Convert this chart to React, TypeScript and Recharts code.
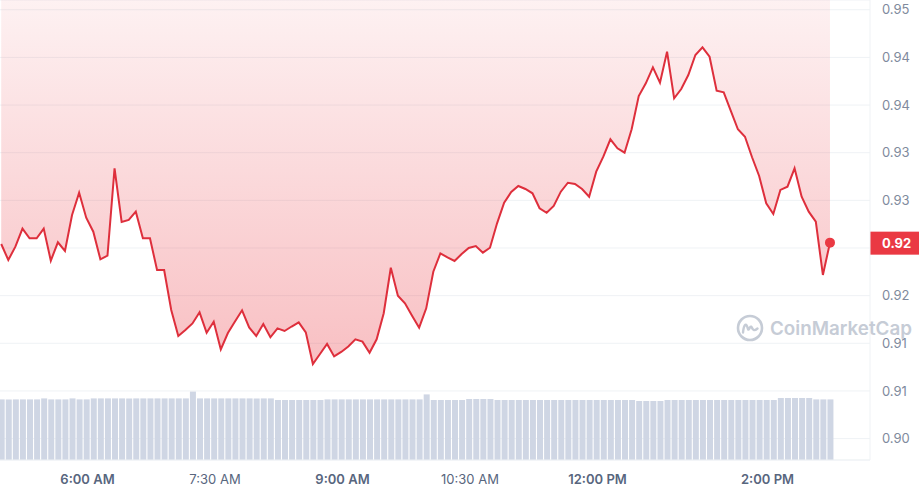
import {
  Area,
  Bar,
  CartesianGrid,
  ComposedChart,
  ReferenceDot,
  ReferenceLine,
  XAxis,
  YAxis,
} from "recharts";

// ---------------------------------------------------------------------------
// Data — 5-minute samples, first one at ~4:59 AM
// ---------------------------------------------------------------------------

const START_MINUTE = 299.1;
const STEP_MINUTES = 5;

const PRICES = [
  0.92542, 0.92374, 0.92514, 0.92703, 0.92602, 0.92602, 0.92703, 0.92367, 0.9256, 0.92469,
  0.92846, 0.9308, 0.92818, 0.92671, 0.92381, 0.92419, 0.93336, 0.92773, 0.92794, 0.92881,
  0.92602, 0.92602, 0.92269, 0.92269, 0.91849, 0.91577, 0.9164, 0.91708, 0.91825, 0.91611,
  0.91727, 0.91435, 0.91608, 0.91729, 0.91846, 0.91666, 0.91577, 0.91702, 0.91563, 0.91657,
  0.91629, 0.91676, 0.9172, 0.91615, 0.91283, 0.91388, 0.91493, 0.91362, 0.91409, 0.91466,
  0.91542, 0.91517, 0.91401, 0.91542, 0.91815, 0.92293, 0.91999, 0.9192, 0.9179, 0.91664,
  0.91867, 0.92251, 0.92444, 0.92402, 0.92364, 0.92437, 0.925, 0.92521, 0.92451, 0.92503,
  0.92759, 0.92975, 0.93088, 0.93151, 0.93119, 0.93074, 0.92917, 0.9287, 0.92941, 0.93091,
  0.93185, 0.93172, 0.93119, 0.93038, 0.93301, 0.93458, 0.93641, 0.93546, 0.935, 0.93746,
  0.94095, 0.94228, 0.94396, 0.94235, 0.9456, 0.94071, 0.94168, 0.94315, 0.94525, 0.94606,
  0.94507, 0.94151, 0.94134, 0.93938, 0.93746, 0.93668, 0.93452, 0.93256, 0.92969, 0.92857,
  0.93109, 0.93143, 0.93336, 0.93038, 0.92881, 0.92776, 0.92217, 0.92556,
];

// volume in millions (relative heights)
const VOLUMES_M = [
  3.03, 3.03, 3.03, 3.03, 3.03, 3.03, 3.08, 3.03, 3.03, 3.03,
  3.08, 3.03, 3.03, 3.08, 3.08, 3.08, 3.08, 3.08, 3.08, 3.08,
  3.08, 3.08, 3.08, 3.08, 3.08, 3.08, 3.08, 3.42, 3.08, 3.08,
  3.08, 3.08, 3.08, 3.08, 3.08, 3.08, 3.08, 3.08, 3.08, 3.0,
  3.0, 3.0, 3.0, 3.0, 3.0, 3.0, 3.03, 3.03, 3.03, 3.03,
  3.03, 3.03, 3.03, 3.03, 3.03, 3.03, 3.03, 3.03, 3.03, 3.03,
  3.28, 3.0, 3.0, 3.0, 3.0, 3.0, 3.05, 3.05, 3.05, 3.05,
  3.0, 3.0, 3.0, 3.0, 3.0, 3.0, 3.0, 3.0, 3.0, 3.0,
  3.0, 3.0, 3.0, 3.0, 3.0, 3.0, 3.0, 3.0, 3.0, 3.0,
  2.95, 2.95, 2.95, 2.95, 3.0, 3.0, 3.0, 3.0, 3.0, 3.0,
  3.0, 3.0, 3.0, 3.0, 3.0, 3.0, 3.0, 3.0, 3.0, 3.0,
  3.1, 3.1, 3.1, 3.1, 3.1, 3.03, 3.03, 3.03,
];

const TIME_TICKS = [360, 450, 540, 630, 720, 840];
const BOLD_TIME_TICKS = [360, 540, 720, 840];
const PRICE_TICKS = [0.905, 0.91, 0.915, 0.92, 0.925, 0.93, 0.935, 0.94, 0.945, 0.95];

const RED = "#ea3943";
const LINE_RED = "#de2f3c";

const rows = PRICES.map((price, i) => ({
  t: START_MINUTE + i * STEP_MINUTES,
  price,
  volume: VOLUMES_M[i],
}));

const last = rows[rows.length - 1];

// CMC shows prices truncated, not rounded (0.945 -> "0.94")
function fmtPrice(v: number) {
  return (Math.floor(v * 100 + 1e-6) / 100).toFixed(2);
}

function fmtTime(min: number) {
  const h24 = Math.floor(min / 60);
  const m = Math.round(min % 60);
  const ampm = h24 >= 12 ? "PM" : "AM";
  const h = h24 % 12 === 0 ? 12 : h24 % 12;
  return `${h}:${String(m).padStart(2, "0")} ${ampm}`;
}

function TimeTick(props: any) {
  const { x, y, payload } = props;
  const bold = BOLD_TIME_TICKS.includes(payload.value);
  return (
    <text
      x={x}
      y={y}
      dy="0.71em"
      textAnchor="middle"
      fill="#58667e"
      fontSize={13}
      fontWeight={bold ? 600 : 400}
      fontFamily="Inter, sans-serif"
    >
      {fmtTime(payload.value)}
    </text>
  );
}

// price ticks; the one sitting under the current-price tag is covered by it
function PriceTick(props: any) {
  const { x, y, payload } = props;
  if (Math.abs(payload.value - last.price) < 0.001) return null;
  return (
    <text
      x={x}
      y={y}
      dy="0.355em"
      textAnchor="start"
      fill="#808a9d"
      fontSize={13}
      fontFamily="Inter, sans-serif"
    >
      {fmtPrice(payload.value)}
    </text>
  );
}

function PriceTag(props: any) {
  const vb = props.viewBox;
  const x = vb.x + vb.width;
  const y = vb.y;
  return (
    <g>
      <rect x={x} y={y - 11} width={49} height={23} fill={RED} />
      <text
        x={x + 12}
        y={y + 0.5}
        dy="0.355em"
        fill="#ffffff"
        fontSize={13}
        fontWeight={700}
        fontFamily="Inter, sans-serif"
      >
        {fmtPrice(last.price)}
      </text>
    </g>
  );
}

function Watermark() {
  return (
    <div
      style={{
        position: "absolute",
        left: 736,
        top: 314,
        display: "flex",
        alignItems: "center",
        gap: 6,
        color: "#c6ccd6",
        fontFamily: "Inter, sans-serif",
        fontWeight: 600,
        fontSize: 18.8,
        pointerEvents: "none",
      }}
    >
      <svg width={28} height={28} viewBox="0 0 28 28">
        <circle cx={14} cy={14} r={12} fill="none" stroke="#c6ccd6" strokeWidth={2.6} />
        <path
          d="M7 18.5 C8 9, 10.5 9, 11.8 14.5 C12.8 18.5, 14 10, 15.8 13.5 C17 16.5, 18.5 17, 21.5 14.5"
          fill="none"
          stroke="#c6ccd6"
          strokeWidth={2.4}
          strokeLinecap="round"
        />
      </svg>
      <span>CoinMarketCap</span>
    </div>
  );
}

export default function App() {
  return (
    <div style={{ position: "absolute", left: 0, top: 0, width: 919, height: 490, background: "#fff" }}>
      <ComposedChart
        width={919}
        height={490}
        data={rows}
        margin={{ top: 0, right: 0, bottom: 0, left: 0 }}
      >
        <defs>
          <linearGradient id="redFill" x1="0" y1="0" x2="0" y2="1">
            <stop offset="0%" stopColor={RED} stopOpacity={0.07} />
            <stop offset="100%" stopColor={RED} stopOpacity={0.32} />
          </linearGradient>
        </defs>
        <CartesianGrid yAxisId="price" vertical={false} stroke="#eff2f5" />
        <XAxis
          dataKey="t"
          type="number"
          domain={[298.24, 912.35]}
          allowDataOverflow
          ticks={TIME_TICKS}
          tick={<TimeTick />}
          tickLine={false}
          tickSize={0}
          tickMargin={15}
          axisLine={{ stroke: "#eff2f5" }}
          height={30}
        />
        <YAxis
          yAxisId="price"
          orientation="right"
          domain={[0.902754, 0.951023]}
          allowDataOverflow
          ticks={PRICE_TICKS}
          tick={<PriceTick />}
          tickLine={false}
          tickSize={0}
          tickMargin={12}
          axisLine={{ stroke: "#eff2f5" }}
          width={49}
        />
        <YAxis yAxisId="vol" hide domain={[0, 23]} />
        <Bar
          yAxisId="vol"
          dataKey="volume"
          fill="#cfd6e4"
          barSize={6}
          isAnimationActive={false}
        />
        <Area
          yAxisId="price"
          dataKey="price"
          type="linear"
          baseValue={0.951023}
          stroke={LINE_RED}
          strokeWidth={2}
          fill="url(#redFill)"
          fillOpacity={1}
          dot={false}
          activeDot={false}
          isAnimationActive={false}
        />
        <ReferenceDot
          yAxisId="price"
          x={last.t}
          y={last.price}
          r={5}
          fill={RED}
          stroke="none"
        />
        <ReferenceLine
          yAxisId="price"
          y={last.price}
          stroke="none"
          label={<PriceTag />}
        />
      </ComposedChart>
      <Watermark />
    </div>
  );
}
